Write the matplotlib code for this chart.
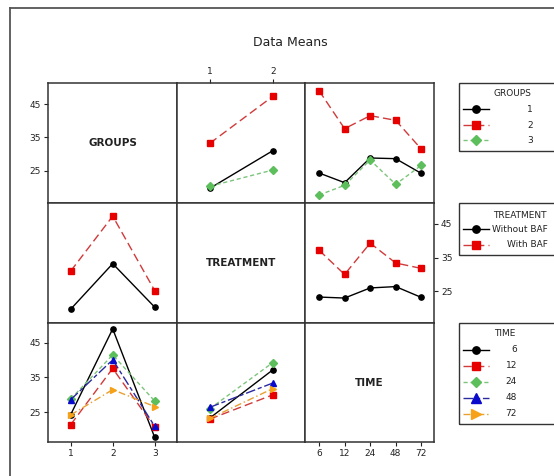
import numpy as np
import matplotlib
matplotlib.use("Agg")
import matplotlib.pyplot as plt
from matplotlib.lines import Line2D
from matplotlib.patches import Rectangle

# data means (interaction plot matrix)
groups = ["1", "2", "3"]
treatments = ["Without BAF", "With BAF"]
times = ["6", "12", "24", "48", "72"]

# rows: groups, cols: treatment
group_treat = np.array([
    [19.7, 31.0],
    [33.2, 47.3],
    [20.3, 25.2],
])
# rows: groups, cols: time
group_time = np.array([
    [24.3, 21.4, 28.8, 28.6, 24.2],
    [49.0, 37.6, 41.5, 40.1, 31.5],
    [17.7, 20.6, 28.2, 20.9, 26.6],
])
# rows: treatment, cols: time
treat_time = np.array([
    [23.3, 23.0, 26.0, 26.4, 23.2],
    [37.2, 30.0, 39.3, 33.4, 31.8],
])

W, H = 554, 476
fig = plt.figure(figsize=(W / 100, H / 100), dpi=100)
fig.patch.set_facecolor("white")

def fx(px):
    return px / W

def fy(py):
    return 1 - py / H

styles = [
    dict(color="black", mfc="black", mec="black", marker="o", ls="-", ms=3.8),
    dict(color="#d03a3a", mfc="#e60000", mec="#e60000", marker="s", ls=(0, (6, 3)), ms=4.3),
    dict(color="#7cc47c", mfc="#5cbf5c", mec="#5cbf5c", marker="D", ls=(0, (3, 2)), ms=4.0),
    dict(color="#2a2aa0", mfc="#0a0acc", mec="#0a0acc", marker="^", ls=(0, (7, 2, 3, 2)), ms=5.0),
    dict(color="#e8a030", mfc="#f5a21a", mec="#f5a21a", marker=">", ls=(0, (5, 2, 1, 2)), ms=5.0),
]

xcols = [48, 177, 305, 434]
yrows = [83, 203, 323, 442]
ylims = [(15.3, 51.3), (15.6, 51.2), (16.4, 50.7)]
xlims = [(0.46, 3.53), (0.48, 2.51), (0.45, 5.5)]
names = ["GROUPS", "TREATMENT", "TIME"]

axes = {}
for r in range(3):
    for c in range(3):
        x0, x1 = xcols[c], xcols[c + 1]
        y0, y1 = yrows[r], yrows[r + 1]
        ax = fig.add_axes([fx(x0), fy(y1), (x1 - x0) / W, (y1 - y0) / H])
        ax.set_xlim(*xlims[c])
        ax.set_ylim(*ylims[r])
        ax.set_xticks([])
        ax.set_yticks([])
        for sp in ax.spines.values():
            sp.set_linewidth(1.1)
            sp.set_color("#333333")
        ax.tick_params(direction="out", length=3, width=0.8, labelsize=6.5,
                       colors="#222222", pad=2)
        axes[(r, c)] = ax

# diagonal labels
for i, nm in enumerate(names):
    axes[(i, i)].text(0.5, 0.5, nm, transform=axes[(i, i)].transAxes,
                      ha="center", va="center", fontsize=7.5, fontweight="bold",
                      color="#222222")

def draw(ax, table):
    xs = np.arange(1, table.shape[1] + 1)
    for k, row in enumerate(table):
        ax.plot(xs, row, lw=1.0, **styles[k])

draw(axes[(0, 1)], group_treat)
draw(axes[(0, 2)], group_time)
draw(axes[(1, 0)], group_treat.T)
draw(axes[(1, 2)], treat_time)
draw(axes[(2, 0)], group_time.T)
draw(axes[(2, 1)], treat_time.T)

yt = [25, 35, 45]
axes[(0, 0)].set_yticks(yt)
axes[(2, 0)].set_yticks(yt)
axes[(1, 2)].set_yticks(yt)
axes[(1, 2)].yaxis.tick_right()
axes[(0, 1)].set_xticks([1, 2])
axes[(0, 1)].xaxis.tick_top()
axes[(2, 0)].set_xticks([1, 2, 3])
axes[(2, 2)].set_xticks(np.arange(1, 6))
axes[(2, 2)].set_xticklabels(times)

fig.text(fx(290), fy(42), "Data Means", ha="center", va="center", fontsize=9,
         color="#222222")

# outer window frame
fig.add_artist(Line2D([fx(10), fx(W)], [fy(8), fy(8)], color="#555555", lw=1.3,
                      transform=fig.transFigure))
fig.add_artist(Line2D([fx(10), fx(10)], [fy(8), fy(H)], color="#555555", lw=1.3,
                      transform=fig.transFigure))

def legend_box(top, bottom, title, title_x, labels, label_x, ys, title_y):
    fig.add_artist(Rectangle((fx(459), fy(bottom)), (W + 5 - 459) / W,
                             (bottom - top) / H, fill=False, ec="#333333",
                             lw=1.0, transform=fig.transFigure))
    fig.text(fx(title_x), fy(title_y), title, ha="center", va="center",
             fontsize=6.5, color="#222222")
    for k, (lab, y) in enumerate(zip(labels, ys)):
        st = styles[k]
        fig.add_artist(Line2D([fx(463), fx(489)], [fy(y), fy(y)], lw=1.0,
                              color=st["color"], ls=st["ls"],
                              transform=fig.transFigure))
        fig.add_artist(Line2D([fx(476)], [fy(y)], marker=st["marker"],
                              ms=st["ms"] + 1.5, mfc=st["mfc"], mec=st["mec"],
                              ls="none", transform=fig.transFigure))
        fig.text(fx(label_x), fy(y), lab, ha="right", va="center",
                 fontsize=6.5, color="#222222")

legend_box(83, 151, "GROUPS", 512, groups, 533, [109, 125, 140], 93)
legend_box(203, 255, "TREATMENT", 520, treatments, 548, [229, 245], 215)
legend_box(323, 424, "TIME", 505, times, 517, [350, 366, 382, 398, 414], 334)

fig.savefig("out.png", dpi=100, facecolor="white")
